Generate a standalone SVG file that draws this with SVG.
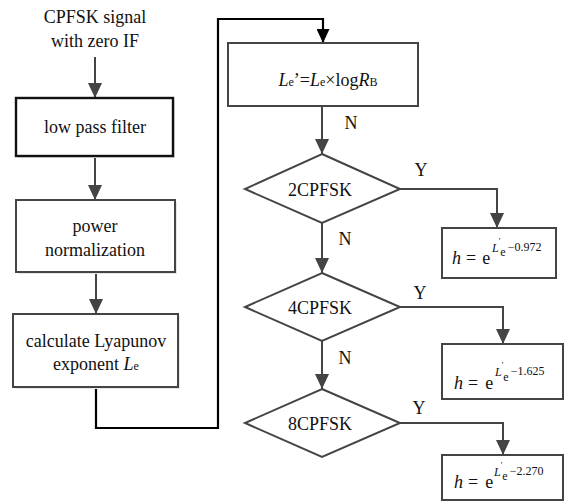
<svg xmlns="http://www.w3.org/2000/svg" width="567" height="502" viewBox="0 0 567 502">
<defs>
<style>
text{font-family:"Liberation Serif","Times New Roman",serif;fill:#111;}
.t{font-size:18px;text-anchor:middle;}
.i{font-style:italic;}
.box{fill:#fff;stroke:#444;stroke-width:2;}
.shadow{fill:#e6e6e6;stroke:none;}
.dia{fill:#fff;stroke:#444;stroke-width:2;}
.c{fill:none;stroke:#444;stroke-width:2;}
.k{fill:none;stroke:#000;stroke-width:2.2;}
.sm{font-size:12px;}
.me{font-size:18px;}
.pr{font-size:9px;}
</style>
<marker id="ag" markerUnits="userSpaceOnUse" markerWidth="15" markerHeight="14" viewBox="0 0 15 14" refX="15" refY="7" orient="auto">
<path d="M0,0 L15,7 L0,14 z" fill="#444"/>
</marker>
<marker id="ak" markerUnits="userSpaceOnUse" markerWidth="14" markerHeight="13" viewBox="0 0 14 13" refX="14" refY="6.5" orient="auto">
<path d="M0,0 L14,6.5 L0,13 z" fill="#000"/>
</marker>
</defs>
<rect width="567" height="502" fill="#fff"/>

<g id="connectors">
<line class="c" x1="95" y1="57" x2="95" y2="98" marker-end="url(#ag)"/>
<line class="c" x1="95" y1="156" x2="95" y2="200" marker-end="url(#ag)"/>
<line class="c" x1="96" y1="272" x2="96" y2="314" marker-end="url(#ag)"/>
<polyline class="k" points="96,387 96,428 218,428 218,19 323,19 323,43" marker-end="url(#ak)"/>
<line class="c" x1="322" y1="106" x2="322" y2="154" marker-end="url(#ag)"/>
<line class="c" x1="322" y1="223" x2="322" y2="273" marker-end="url(#ag)"/>
<line class="c" x1="322" y1="341" x2="322" y2="389" marker-end="url(#ag)"/>
<polyline class="c" points="400,189 497,189 497,228" marker-end="url(#ag)"/>
<polyline class="c" points="400,307 503,307 503,344" marker-end="url(#ag)"/>
<polyline class="c" points="400,423 503,423 503,455" marker-end="url(#ag)"/>
<text class="t" x="351" y="129">N</text>
<text class="t" x="345" y="245">N</text>
<text class="t" x="345" y="364">N</text>
<text class="t" x="421" y="176">Y</text>
<text class="t" x="420" y="299">Y</text>
<text class="t" x="419" y="414">Y</text>
</g>

<g id="input">
<text class="t" x="95" y="23">CPFSK signal</text>
<text class="t" x="95" y="47">with zero IF</text>
</g>

<g id="lowpass">
<rect class="shadow" x="18" y="100" width="157" height="58"/>
<rect x="16" y="98" width="157" height="58" fill="#fff" stroke="#111" stroke-width="2.4"/>
<text class="t" x="95" y="133">low pass filter</text>
</g>

<g id="power">
<rect class="shadow" x="18" y="202" width="159" height="72"/>
<rect class="box" x="16" y="200" width="159" height="72"/>
<text class="t" x="95" y="232">power</text>
<text class="t" x="95" y="256">normalization</text>
</g>

<g id="lyapunov">
<rect class="shadow" x="15" y="316" width="165" height="73"/>
<rect class="box" x="13" y="314" width="165" height="73"/>
<text class="t" x="96" y="347">calculate Lyapunov</text>
<text class="t" x="96" y="370">exponent <tspan class="i">L</tspan><tspan font-size="12">e</tspan></text>
</g>

<g id="scale">
<rect class="box" x="228" y="43" width="190" height="63"/>
<text class="t" x="328" y="86"><tspan class="i">L</tspan><tspan font-size="12">e</tspan>’=<tspan class="i">L</tspan><tspan font-size="12">e</tspan>×log<tspan class="i">R</tspan><tspan font-size="12">B</tspan></text>
</g>

<g id="d2">
<polygon class="dia" points="322,154 400,189 322,223 245,189"/>
<text class="t" x="320" y="196">2CPFSK</text>
</g>
<g id="d4">
<polygon class="dia" points="322,273 400,307 322,341 245,307"/>
<text class="t" x="320" y="314">4CPFSK</text>
</g>
<g id="d8">
<polygon class="dia" points="322,389 400,423 322,457 245,423"/>
<text class="t" x="320" y="430">8CPFSK</text>
</g>

<g id="h1">
<rect class="box" x="442" y="228" width="114" height="50"/>
<text class="me" x="452" y="264"><tspan class="i">h</tspan><tspan dx="5">=</tspan><tspan dx="6">e</tspan></text>
<text class="sm" x="492" y="252"><tspan class="i">L</tspan><tspan class="pr" dy="-8">'</tspan><tspan dy="12">e</tspan><tspan dx="2" dy="-5">−0.972</tspan></text>
</g>

<g id="h2">
<rect class="box" x="442" y="344" width="121" height="55"/>
<text class="me" x="454" y="389"><tspan class="i">h</tspan><tspan dx="5">=</tspan><tspan dx="7">e</tspan></text>
<text class="sm" x="495" y="376"><tspan class="i">L</tspan><tspan class="pr" dy="-8">'</tspan><tspan dy="13">e</tspan><tspan dx="2" dy="-6">−1.625</tspan></text>
</g>

<g id="h3">
<rect class="box" x="442" y="455" width="121" height="45"/>
<text class="me" x="454" y="488"><tspan class="i">h</tspan><tspan dx="5">=</tspan><tspan dx="7">e</tspan></text>
<text class="sm" x="494" y="476"><tspan class="i">L</tspan><tspan class="pr" dy="-8">'</tspan><tspan dy="12">e</tspan><tspan dx="2" dy="-5">−2.270</tspan></text>
</g>
</svg>
